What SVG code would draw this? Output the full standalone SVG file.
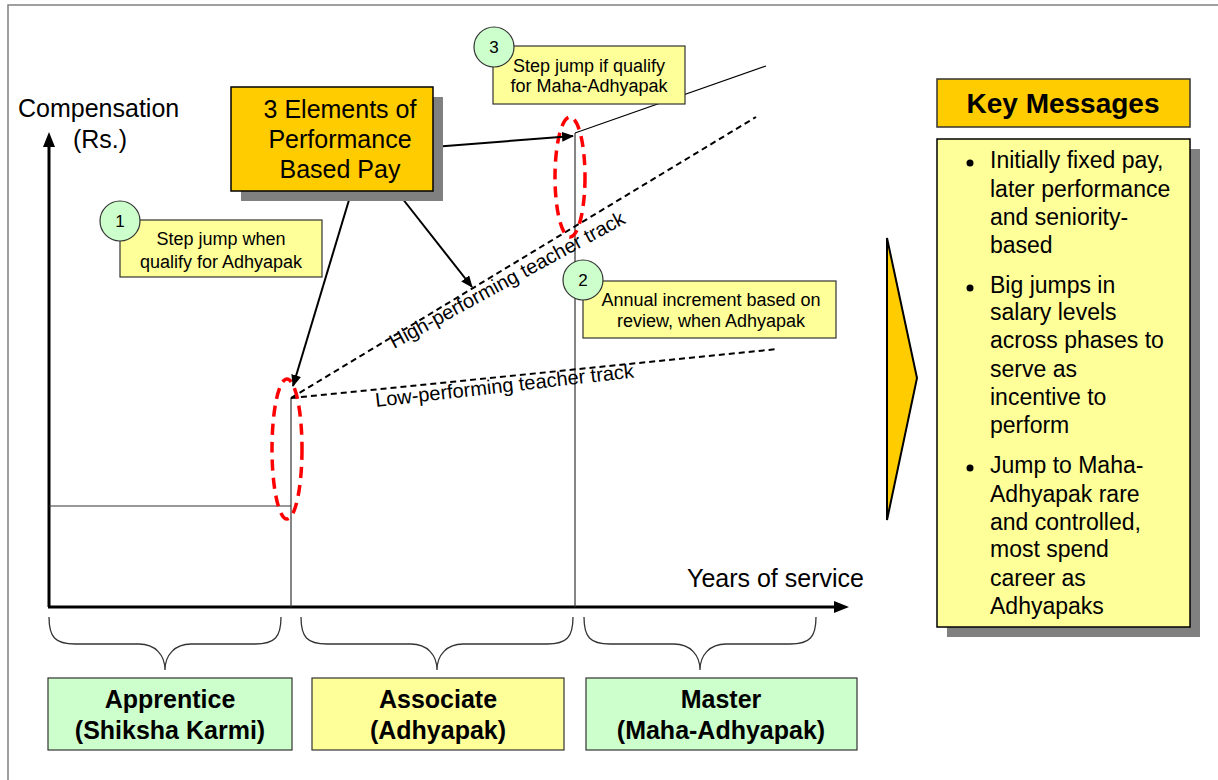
<svg xmlns="http://www.w3.org/2000/svg" width="1218" height="780" viewBox="0 0 1218 780">
<style>
text{font-family:"Liberation Sans",Arial,sans-serif;fill:#000}
.reg{font-size:25px}
.call{font-size:18px;text-anchor:middle}
.lbl{font-size:25px;font-weight:bold;text-anchor:middle}
.bul{font-size:23px}
.thin{stroke:#333;stroke-width:1.2;fill:none}
.dash{stroke:#000;stroke-width:2;stroke-dasharray:6 4;fill:none}
.red{stroke:#FF0000;stroke-width:3.5;stroke-dasharray:11 7;fill:none}
.arr{stroke:#000;stroke-width:2;fill:none;marker-end:url(#ah)}
.brace{stroke:#333;stroke-width:1.3;fill:none}
.circ{fill:#CCFFCC;stroke:#333;stroke-width:1.2}
.cbox{fill:#FFFF99;stroke:#333;stroke-width:1.2}
.shadow{fill:#808080}
</style>
<defs>
<marker id="ah" markerWidth="12" markerHeight="10" refX="11" refY="5" orient="auto" markerUnits="userSpaceOnUse">
<path d="M0,0 L12,5 L0,10 Z" fill="#000"/>
</marker>
</defs>
<rect x="8" y="5" width="1240" height="800" fill="#fff" stroke="#808080" stroke-width="1.5"/>

<g id="axes">
<line x1="49" y1="607" x2="49" y2="146" stroke="#000" stroke-width="3"/>
<path d="M43,147 L49,132 L55,147 Z" fill="#000"/>
<line x1="48" y1="607" x2="835" y2="607" stroke="#000" stroke-width="3"/>
<path d="M834,601 L849,607 L834,613 Z" fill="#000"/>
<text class="reg" x="18" y="117">Compensation</text>
<text class="reg" x="100" y="148" text-anchor="middle">(Rs.)</text>
<text class="reg" x="687" y="587">Years of service</text>
</g>

<g id="connectors">
<line class="thin" x1="49" y1="506" x2="291" y2="506"/>
<line class="thin" x1="291" y1="398" x2="291" y2="607"/>
<line class="thin" x1="575" y1="133" x2="575" y2="607"/>
<line x1="575" y1="133" x2="766" y2="66" stroke="#000" stroke-width="1.2"/>
<line class="dash" x1="291" y1="398" x2="756" y2="117"/>
<line class="dash" x1="291" y1="398" x2="778" y2="349"/>
<ellipse class="red" cx="287" cy="449" rx="15" ry="70"/>
<ellipse class="red" cx="570" cy="177" rx="15" ry="60"/>
<line class="arr" x1="352" y1="190" x2="293" y2="386"/>
<line class="arr" x1="402" y1="198" x2="472" y2="287"/>
<line class="arr" x1="433" y1="147" x2="573" y2="136"/>
</g>

<g id="track-labels">
<text style="font-size:20px" transform="translate(394,349) rotate(-28.5)">High-performing teacher track</text>
<text style="font-size:20px" transform="translate(376,407) rotate(-6.5)">Low-performing teacher track</text>
</g>

<g id="main-box">
<rect class="shadow" x="241" y="97" width="202" height="104"/>
<rect x="231" y="87" width="202" height="104" fill="#FFCC00" stroke="#000" stroke-width="1.5"/>
<text class="reg" x="340" y="118" text-anchor="middle">3 Elements of</text>
<text class="reg" x="340" y="148" text-anchor="middle">Performance</text>
<text class="reg" x="340" y="178" text-anchor="middle">Based Pay</text>
</g>

<g id="callout-1">
<rect class="cbox" x="120" y="220" width="202" height="57"/>
<circle class="circ" cx="120" cy="221" r="20"/>
<text class="call" x="120" y="227" style="font-size:17px">1</text>
<text class="call" x="221" y="245">Step jump when</text>
<text class="call" x="221" y="268">qualify for Adhyapak</text>
</g>

<g id="callout-2">
<rect class="cbox" x="583" y="281" width="253" height="57"/>
<circle class="circ" cx="583" cy="280" r="20"/>
<text class="call" x="583" y="286" style="font-size:17px">2</text>
<text class="call" x="711" y="306">Annual increment based on</text>
<text class="call" x="711" y="327">review, when Adhyapak</text>
</g>

<g id="callout-3">
<rect class="cbox" x="493" y="46" width="192" height="58"/>
<circle class="circ" cx="494" cy="47" r="20"/>
<text class="call" x="494" y="53" style="font-size:17px">3</text>
<text class="call" x="589" y="72">Step jump if qualify</text>
<text class="call" x="589" y="92">for Maha-Adhyapak</text>
</g>

<g id="braces">
<path class="brace" d="M49,617 C49,637 55,644 75,644 L139,644 C155,644 165,655 165,670 C165,655 175,644 191,644 L255,644 C275,644 281,637 281,617"/>
<path class="brace" d="M301,617 C301,637 307,644 327,644 L411,644 C427,644 437,655 437,670 C437,655 447,644 463,644 L547,644 C567,644 573,637 573,617"/>
<path class="brace" d="M584,617 C584,637 590,644 610,644 L674,644 C690,644 700,655 700,670 C700,655 710,644 726,644 L790,644 C810,644 816,637 816,617"/>
</g>

<g id="apprentice">
<rect x="48" y="678" width="244" height="72" fill="#CCFFCC" stroke="#333" stroke-width="1.2"/>
<text class="lbl" x="170" y="708">Apprentice</text>
<text class="lbl" x="170" y="739">(Shiksha Karmi)</text>
</g>
<g id="associate">
<rect x="312" y="678" width="252" height="72" fill="#FFFF99" stroke="#333" stroke-width="1.2"/>
<text class="lbl" x="438" y="708">Associate</text>
<text class="lbl" x="438" y="739">(Adhyapak)</text>
</g>
<g id="master">
<rect x="586" y="678" width="271" height="72" fill="#CCFFCC" stroke="#333" stroke-width="1.2"/>
<text class="lbl" x="721" y="708">Master</text>
<text class="lbl" x="721" y="739">(Maha-Adhyapak)</text>
</g>

<g id="chevron">
<path d="M887,238 L917,378 L887,520 Z" fill="#FFCC00" stroke="#000" stroke-width="2" stroke-linejoin="miter"/>
</g>

<g id="key-messages-title">
<rect x="937" y="79" width="253" height="48" fill="#FFCC00" stroke="#333" stroke-width="1.5"/>
<text x="1063" y="113" text-anchor="middle" style="font-size:28px;font-weight:bold">Key Messages</text>
</g>

<g id="key-messages">
<rect class="shadow" x="947" y="149" width="253" height="488"/>
<rect x="937" y="139" width="253" height="488" fill="#FFFF99" stroke="#000" stroke-width="1.5"/>
<circle cx="970" cy="163" r="3.5" fill="#000"/>
<text class="bul" x="990" y="168">Initially fixed pay,</text>
<text class="bul" x="990" y="197">later performance</text>
<text class="bul" x="990" y="225">and seniority-</text>
<text class="bul" x="990" y="253">based</text>
<circle cx="970" cy="288" r="3.5" fill="#000"/>
<text class="bul" x="990" y="293">Big jumps in</text>
<text class="bul" x="990" y="320">salary levels</text>
<text class="bul" x="990" y="348">across phases to</text>
<text class="bul" x="990" y="377">serve as</text>
<text class="bul" x="990" y="405">incentive to</text>
<text class="bul" x="990" y="433">perform</text>
<circle cx="970" cy="468" r="3.5" fill="#000"/>
<text class="bul" x="990" y="473">Jump to Maha-</text>
<text class="bul" x="990" y="502">Adhyapak rare</text>
<text class="bul" x="990" y="530">and controlled,</text>
<text class="bul" x="990" y="557">most spend</text>
<text class="bul" x="990" y="586">career as</text>
<text class="bul" x="990" y="614">Adhyapaks</text>
</g>
</svg>
